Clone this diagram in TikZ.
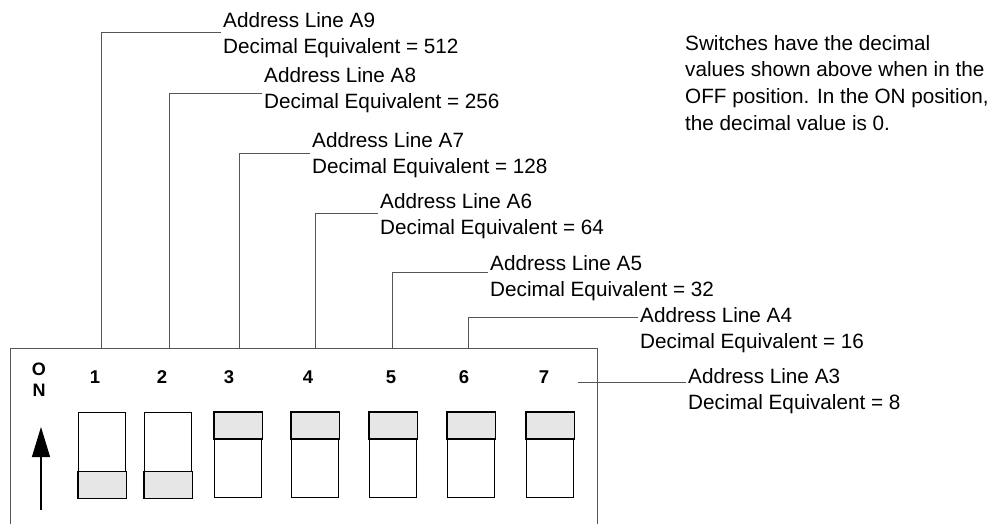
\documentclass[tikz,border=0pt]{standalone}
\usepackage{fontspec}
\setmainfont{Liberation Sans}
\usepackage{xcolor}
\definecolor{knobgray}{RGB}{230,230,230}
\definecolor{leadgray}{RGB}{85,85,85}
\usetikzlibrary{calc,positioning,arrows.meta}

\begin{document}
\begin{tikzpicture}[x=1pt,y=-1pt,
    addr/.style={anchor=base west,inner sep=0pt,align=left,
        font=\fontsize{20.7}{26}\selectfont},
    swnum/.style={inner sep=0pt,font=\fontsize{18.5}{21}\selectfont\bfseries},
    leader/.style={draw=leadgray,line width=0.9pt},
    switchbox/.style={draw=black,line width=1.3pt,fill=white,
        minimum width=47pt,minimum height=85pt,anchor=north west,inner sep=0pt},
    knob/.style={draw=black,line width=1.3pt,fill=knobgray}]
    \useasboundingbox (0,0) rectangle (995,523);
    % DIP housing (open below the picture edge)
    \node[draw=leadgray,line width=1.3pt,minimum width=587pt,minimum height=220pt,
        anchor=north west,inner sep=0pt] (dip) at (10,348) {};
    % Switches: number / left x / on
    \foreach \i/\x/\on in {1/78/1,2/144/1,3/214/0,4/291/0,5/369/0,6/447/0,7/526/0}{
        \node[switchbox] (sw\i) at (\x,412) {};
        \ifnum\on=1
            \draw[knob] (sw\i.south west) rectangle ($(sw\i.south east)+(0,-27)$);
        \else
            \draw[knob] (sw\i.north west) rectangle ($(sw\i.north east)+(0,27)$);
        \fi
    }
    % Switch numbers
    \foreach \i/\x in {1/95,2/162,3/229,4/308,5/391,6/464,7/544}
        \node[swnum] (n\i) at (\x,377) {\i};
    \node[swnum,align=center,font=\fontsize{18}{21}\selectfont\bfseries] (on) at (39,380) {O\\N};
    % ON arrow
    \coordinate (tail) at (41,510);
    \coordinate (tip) at (41,427);
    \draw[line width=1.2pt,-{Triangle[length=30pt,width=18pt]}] (tail) -- (tip);
    % Address labels (base = baseline of last line)
    \node[addr] (a9) at (223,53) {Address Line A9\\Decimal Equivalent = 512};
    \node[addr] (a8) at (264,108) {Address Line A8\\Decimal Equivalent = 256};
    \node[addr] (a7) at (312,173) {Address Line A7\\Decimal Equivalent = 128};
    \node[addr] (a6) at (380,234) {Address Line A6\\Decimal Equivalent = 64};
    \node[addr] (a5) at (490,296) {Address Line A5\\Decimal Equivalent = 32};
    \node[addr] (a4) at (640,348) {Address Line A4\\Decimal Equivalent = 16};
    \node[addr] (a3) at (688,409) {Address Line A3\\Decimal Equivalent = 8};
    % Leader bends
    \coordinate (b1) at (101,32);
    \coordinate (b2) at (169,93);
    \coordinate (b3) at (239,153);
    \coordinate (b4) at (315,213);
    \coordinate (b5) at (392,272);
    \coordinate (b6) at (468,317);
    \coordinate (b7) at (578,382);
    % Leaders
    \foreach \b/\a in {1/a9,2/a8,3/a7,4/a6,5/a5,6/a4}
        \draw[leader] (dip.north -| b\b) -- (b\b) -- ([xshift=-2pt]\a.west |- b\b);
    \draw[leader] (b7) -- ([xshift=-2pt]a3.west |- b7);
    % Note
    \node[addr,font=\fontsize{20.7}{26.6}\selectfont] (note) at (685,130)
        {Switches have the decimal\\values shown above when in the\\OFF position. In the ON position,\\the decimal value is 0.};
\end{tikzpicture}
\end{document}
